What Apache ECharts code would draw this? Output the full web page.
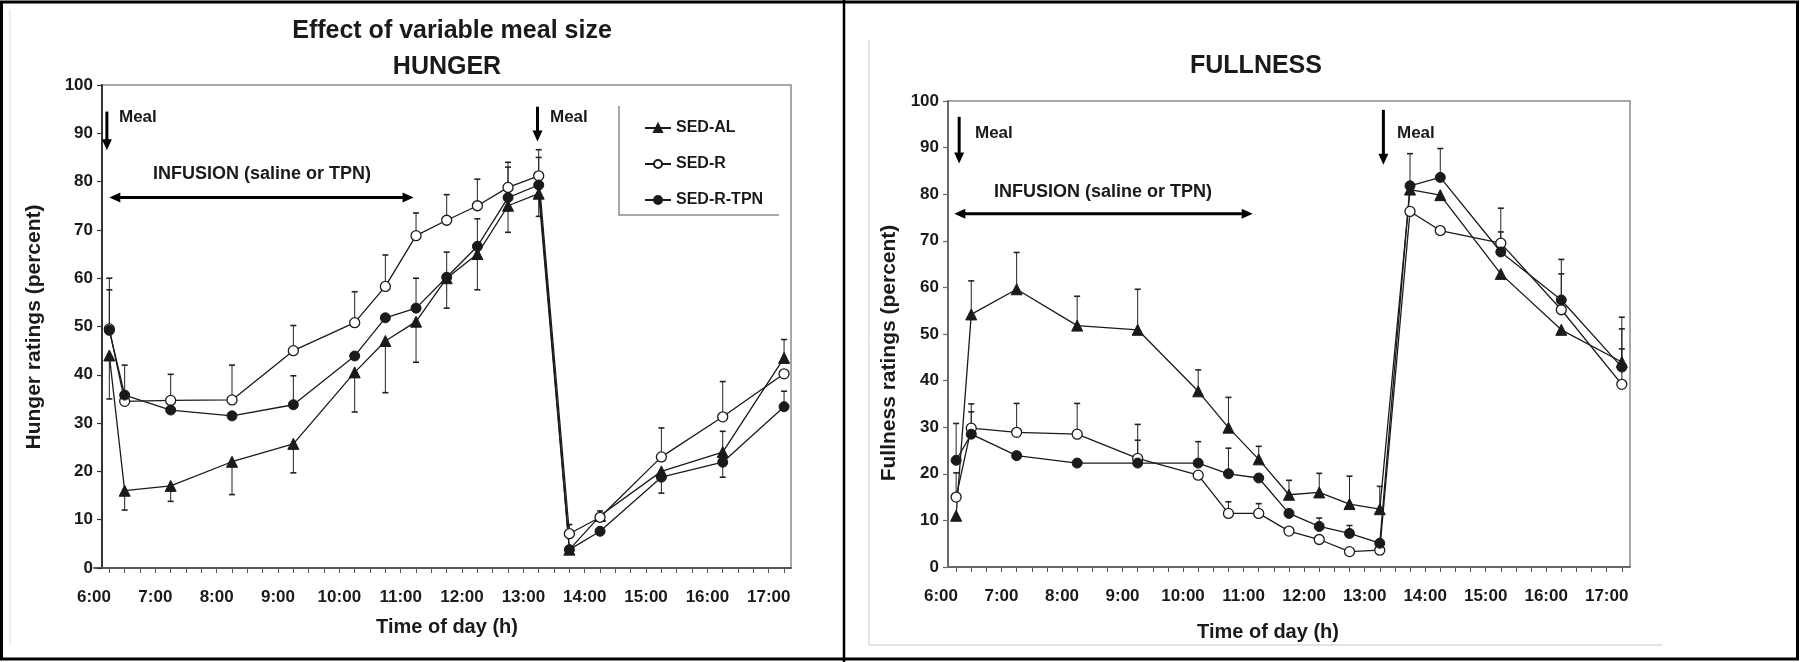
<!DOCTYPE html>
<html>
<head>
<meta charset="utf-8">
<script src="https://cdn.jsdelivr.net/npm/echarts@6/dist/echarts.min.js"></script>
<style>
html,body{margin:0;padding:0;background:#fff;}
#c{width:1800px;height:662px;}
</style>
</head>
<body>
<div id="c"></div>
<script>
// ---- data ----
const times = [6.25, 6.5, 7.25, 8.25, 9.25, 10.25, 10.75, 11.25, 11.75, 12.25, 12.75, 13.25, 13.75, 14.25, 15.25, 16.25, 17.25];
const hourLabels = [6, 7, 8, 9, 10, 11, 12, 13, 14, 15, 16, 17];
const seriesNames = ['SED-AL', 'SED-R', 'SED-R-TPN'];

const hungerAL  = [44, 16, 17, 22, 25.7, 40.5, 47, 51, 60, 65, 75, 77.5, 3.8, 10.8, 20, 24, 43.5];
const hungerR   = [49.5, 34.5, 34.7, 34.8, 45, 50.8, 58.3, 68.8, 72, 75, 78.8, 81.2, 7.1, 10.5, 23, 31.3, 40.2];
const hungerTPN = [49.2, 35.8, 32.7, 31.5, 33.8, 43.9, 51.8, 53.8, 60.2, 66.6, 76.7, 79.3, 3.8, 7.6, 18.8, 21.9, 33.4];
// error bar end values (null = not visible)
const hungerALErr  = [35, 12, 13.8, 15.2, 19.7, 32.3, 36.3, 42.6, 53.8, 57.6, 69.5, 72.8, null, null, null, 28.3, 47.3];
const hungerRErr   = [60, 42, 40.1, 42, 50.2, 57.2, 64.8, 73.5, 77.3, 80.5, 84, 86.6, 9, 11.8, 29, 38.6, null];
const hungerTPNErr = [57.6, null, null, null, 39.8, null, null, 60, 65.4, 72.3, 83, 85, null, null, 15.5, 18.8, 36.6];

const fullAL  = [11, 54.2, 59.6, 51.8, 50.9, 37.7, 29.9, 23.1, 15.5, 16, 13.5, 12.4, 81, 79.8, 62.9, 50.9, 44];
const fullR   = [15, 29.8, 28.9, 28.5, 23.3, 19.7, 11.5, 11.5, 7.7, 5.9, 3.3, 3.6, 76.3, 72.2, 69.5, 55.2, 39.2];
const fullTPN = [22.9, 28.5, 23.9, 22.3, 22.3, 22.3, 20, 19.1, 11.5, 8.7, 7.2, 5.1, 81.8, 83.6, 67.6, 57.3, 42.9];
const fullALErr  = [null, 61.4, 67.5, 58.1, 59.6, 42.3, 36.4, 25.9, 18.6, 20.1, 19.5, 17.3, null, null, null, null, 51.1];
const fullRErr   = [20.2, 35, 35.1, 35.1, 30.6, null, 14, 13.6, null, null, null, null, null, null, 77, 62.9, 46.8];
const fullTPNErr = [30.8, 33.3, null, null, 27.2, 26.9, 25.5, null, null, 10.5, 8.9, null, 88.7, 89.8, 71.9, 66, 53.6];

// ---- chart ----
const FONT = "'Liberation Sans', Arial, sans-serif";
const INK = '#1a1a1a';
const quarterTicks = [];
for (let q = 25; q <= 1725; q += 25) { if (q >= 625) quarterTicks.push(q / 100); }

const chart = echarts.init(document.getElementById('c'), null, {renderer: 'canvas'});

const markerStyles = {
  'SED-AL':    {symbol: 'triangle', symbolSize: 11, itemStyle: {color: INK, borderColor: INK, borderWidth: 1}},
  'SED-R':     {symbol: 'circle', symbolSize: 10, itemStyle: {color: '#fff', borderColor: INK, borderWidth: 1.3}},
  'SED-R-TPN': {symbol: 'circle', symbolSize: 10, itemStyle: {color: INK, borderColor: INK, borderWidth: 1}}
};

function lineSeries(name, vals, xi, yi) {
  const st = markerStyles[name];
  return {
    name: name, type: 'line', xAxisIndex: xi, yAxisIndex: yi,
    data: times.map((t, i) => [t, vals[i]]),
    symbol: st.symbol, symbolSize: st.symbolSize, showAllSymbol: true,
    itemStyle: st.itemStyle,
    lineStyle: {color: INK, width: 1.3},
    z: 3, clip: false
  };
}
function errSeries(name, vals, errs, xi, yi) {
  const data = [];
  times.forEach((t, i) => { if (errs[i] != null) data.push([t, vals[i], errs[i]]); });
  return {
    name: name, type: 'custom', xAxisIndex: xi, yAxisIndex: yi, z: 2,
    itemStyle: {color: INK},
    encode: {x: 0, y: [1, 2]},
    data: data,
    renderItem: function (params, api) {
      const p1 = api.coord([api.value(0), api.value(1)]);
      const p2 = api.coord([api.value(0), api.value(2)]);
      return {type: 'group', children: [
        {type: 'line', shape: {x1: p1[0], y1: p1[1], x2: p2[0], y2: p2[1]}, style: {stroke: '#222', lineWidth: 1}},
        {type: 'line', shape: {x1: p2[0] - 3, y1: p2[1], x2: p2[0] + 3, y2: p2[1]}, style: {stroke: '#222', lineWidth: 1.6}}
      ]};
    }
  };
}

const yFrameAxis = (gi, lineColor) => ({
  gridIndex: gi, type: 'value', min: 0, max: 100, interval: 10,
  axisLine: {show: true, lineStyle: {color: lineColor, width: 2}},
  axisTick: {show: true, length: 5, lineStyle: {color: lineColor, width: 1.2}},
  axisLabel: {margin: 9, color: INK, fontSize: 17, fontWeight: 'bold', fontFamily: FONT},
  splitLine: {show: false}
});
const xDataAxis = (gi, max, showLine) => ({
  gridIndex: gi, type: 'value', min: 6, max: max, interval: 1,
  axisLine: {show: showLine, onZero: false, lineStyle: {color: '#555', width: 1.8}},
  axisTick: {show: true, length: 5, customValues: quarterTicks, lineStyle: {color: '#555', width: 1}},
  axisLabel: {customValues: hourLabels, margin: 21, color: INK, fontSize: 17, fontWeight: 'bold', fontFamily: FONT,
    formatter: v => v + ':00'},
  splitLine: {show: false}
});

const option = {
  animation: false,
  backgroundColor: '#fff',
  grid: [
    {left: 102, top: 85, width: 689, height: 483, show: true, borderColor: '#8c8c8c', borderWidth: 1.5, backgroundColor: 'transparent'},
    {left: 94, top: 85, width: 697, height: 483},
    {left: 948, top: 101, width: 682, height: 466, show: true, borderColor: '#8c8c8c', borderWidth: 1.5, backgroundColor: 'transparent'},
    {left: 941, top: 101, width: 689, height: 466}
  ],
  xAxis: [
    {gridIndex: 0, type: 'value', min: 0, max: 1, show: false},
    xDataAxis(1, 17.363, true),
    {gridIndex: 2, type: 'value', min: 0, max: 1, axisLine: {show: true, lineStyle: {color: '#666', width: 1.8}},
      axisTick: {show: false}, axisLabel: {show: false}, splitLine: {show: false}},
    xDataAxis(3, 17.385, false)
  ],
  yAxis: [
    yFrameAxis(0, '#333'),
    {gridIndex: 1, type: 'value', min: 0, max: 100, show: false},
    yFrameAxis(2, '#6a6a6a'),
    {gridIndex: 3, type: 'value', min: 0, max: 100, show: false}
  ],
  legend: {
    data: seriesNames, orient: 'vertical', left: 639, top: 115,
    itemWidth: 26, itemHeight: 10, itemGap: 20,
    textStyle: {fontSize: 16, fontWeight: 'bold', fontFamily: FONT, color: INK, lineHeight: 16}
  },
  series: [
    lineSeries('SED-AL', hungerAL, 1, 1),
    lineSeries('SED-R', hungerR, 1, 1),
    lineSeries('SED-R-TPN', hungerTPN, 1, 1),
    lineSeries('SED-AL', fullAL, 3, 3),
    lineSeries('SED-R', fullR, 3, 3),
    lineSeries('SED-R-TPN', fullTPN, 3, 3),
    errSeries('SED-AL', hungerAL, hungerALErr, 1, 1),
    errSeries('SED-R', hungerR, hungerRErr, 1, 1),
    errSeries('SED-R-TPN', hungerTPN, hungerTPNErr, 1, 1),
    errSeries('SED-AL', fullAL, fullALErr, 3, 3),
    errSeries('SED-R', fullR, fullRErr, 3, 3),
    errSeries('SED-R-TPN', fullTPN, fullTPNErr, 3, 3)
  ]
};
chart.setOption(option);

// ---- annotations (arrows placed in data coordinates) ----
function px(gi, x, y) { return chart.convertToPixel({gridIndex: gi}, [x, y]); }
function downArrow(gi, x, yTop, yBot) {
  const a = px(gi, x, yTop), b = px(gi, x, yBot);
  const head = 11, hw = 5;
  return [
    {type: 'line', shape: {x1: a[0], y1: a[1], x2: b[0], y2: b[1] - head + 1}, style: {stroke: '#000', lineWidth: 3}},
    {type: 'polygon', shape: {points: [[b[0] - hw, b[1] - head], [b[0] + hw, b[1] - head], [b[0], b[1]]]}, style: {fill: '#000'}}
  ];
}
function dblArrow(gi, x1, x2, y) {
  const a = px(gi, x1, y), b = px(gi, x2, y);
  const head = 11, hw = 5;
  return [
    {type: 'line', shape: {x1: a[0] + head - 1, y1: a[1], x2: b[0] - head + 1, y2: b[1]}, style: {stroke: '#000', lineWidth: 3}},
    {type: 'polygon', shape: {points: [[a[0], a[1]], [a[0] + head, a[1] - hw], [a[0] + head, a[1] + hw]]}, style: {fill: '#000'}},
    {type: 'polygon', shape: {points: [[b[0], b[1]], [b[0] - head, b[1] - hw], [b[0] - head, b[1] + hw]]}, style: {fill: '#000'}}
  ];
}
function txt(x, y, s, size, align, rot) {
  return {type: 'text', x: x, y: y, rotation: rot || 0,
    style: {text: s, fill: INK, font: 'bold ' + size + 'px ' + FONT, textAlign: align || 'center', textVerticalAlign: 'middle'}};
}
const g = [];
// frame & dividers
g.push({type: 'rect', shape: {x: 1.5, y: 2, width: 1796, height: 657}, style: {fill: 'none', stroke: '#000', lineWidth: 3}});
g.push({type: 'line', shape: {x1: 844, y1: 0, x2: 844, y2: 662}, style: {stroke: '#000', lineWidth: 2.5}});
g.push({type: 'line', shape: {x1: 869, y1: 40, x2: 869, y2: 645}, style: {stroke: '#c8c8c8', lineWidth: 1}});
g.push({type: 'line', shape: {x1: 869, y1: 645, x2: 1662, y2: 645}, style: {stroke: '#c8c8c8', lineWidth: 1}});
g.push({type: 'line', shape: {x1: 10, y1: 10, x2: 10, y2: 645}, style: {stroke: '#e0e0e0', lineWidth: 1}});
// legend box (left & bottom edges visible)
g.push({type: 'polyline', shape: {points: [[619, 106], [619, 215], [779, 215]]}, style: {stroke: '#8c8c8c', lineWidth: 1.5, fill: 'none'}});
// titles
g.push(txt(452, 31, 'Effect of variable meal size', 25));
g.push(txt(447, 67, 'HUNGER', 25));
g.push(txt(1256, 66, 'FULLNESS', 25));
// axis titles
g.push(txt(447, 627, 'Time of day (h)', 20));
g.push(txt(1268, 632, 'Time of day (h)', 20));
g.push(txt(34, 327, 'Hunger ratings (percent)', 21, 'center', Math.PI / 2));
g.push(txt(889, 353, 'Fullness ratings (percent)', 21, 'center', Math.PI / 2));
// left panel annotations
g.push(...downArrow(1, 6.21, 94.5, 86.5));
g.push(...downArrow(1, 13.23, 95.5, 88.3));
g.push(...dblArrow(1, 6.25, 11.21, 76.7));
g.push(txt(119, 117, 'Meal', 17, 'left'));
g.push(txt(550, 117, 'Meal', 17, 'left'));
g.push(txt(262, 174, 'INFUSION (saline or TPN)', 18));
// right panel annotations
g.push(...downArrow(3, 6.30, 96.6, 86.6));
g.push(...downArrow(3, 13.31, 98.1, 86.3));
g.push(...dblArrow(3, 6.22, 11.15, 75.8));
g.push(txt(975, 133, 'Meal', 17, 'left'));
g.push(txt(1397, 133, 'Meal', 17, 'left'));
g.push(txt(1103, 192, 'INFUSION (saline or TPN)', 18));

chart.setOption({graphic: {elements: g.map(e => Object.assign({silent: true, z: 10}, e))}});
</script>
</body>
</html>
